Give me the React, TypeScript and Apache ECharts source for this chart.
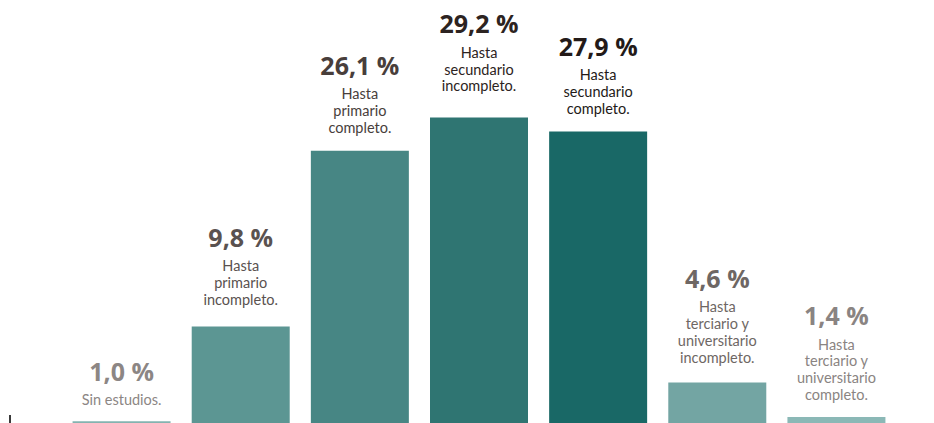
import React, { useEffect, useRef } from "react";
import * as echarts from "echarts";

const categories = [
  "Sin estudios.",
  "Hasta\nprimario\nincompleto.",
  "Hasta\nprimario\ncompleto.",
  "Hasta\nsecundario\nincompleto.",
  "Hasta\nsecundario\ncompleto.",
  "Hasta\nterciario y\nuniversitario\nincompleto.",
  "Hasta\nterciario y\nuniversitario\ncompleto.",
];
const values = [1.0, 9.8, 26.1, 29.2, 27.9, 4.6, 1.4];

const barColors = ["#84b3b0", "#5c9693", "#478684", "#2f7572", "#196866", "#73a5a3", "#8bb8b6"];
const textColors = ["#8c8684", "#5a5250", "#483e3b", "#2c2321", "#231a18", "#6e6764", "#8a8482"];
const labelGaps = [13, 19, 15, 23, 15, 17, 14];

const fmt = (v: number) => v.toFixed(1).replace(".", ",") + " %";

export default function App() {
  const ref = useRef<HTMLDivElement>(null);
  useEffect(() => {
    const chart = echarts.init(ref.current!, null, { renderer: "svg" });
    const vFont = "'Open Sans', 'Noto Sans', sans-serif";
    const dFont = "Lato, 'Open Sans', sans-serif";
    chart.setOption({
      animation: false,
      grid: { left: 62, right: 38, top: 1, bottom: 0 },
      xAxis: { type: "category", data: categories, show: false },
      yAxis: { type: "value", min: 0.84, max: 40, show: false },
      series: [
        {
          type: "bar",
          barWidth: 98,
          data: values.map((v, i) => ({
            value: v,
            itemStyle: { color: barColors[i] },
            label: {
              show: true,
              position: "top",
              distance: labelGaps[i],
              formatter: () => `{v|${fmt(v)}}\n{d|${categories[i]}}`,
              rich: {
                v: {
                  fontFamily: vFont,
                  fontWeight: 700,
                  fontSize: 25,
                  lineHeight: 41,
                  color: textColors[i],
                  align: "center",
                },
                d: {
                  fontFamily: dFont,
                  fontWeight: 400,
                  fontSize: 14.5,
                  lineHeight: 16.8,
                  color: textColors[i],
                  align: "center",
                },
              },
            },
          })),
        },
      ],
      graphic: [
        {
          type: "rect",
          shape: { x: 9, y: 415, width: 2, height: 8 },
          style: { fill: "#3a3a3a" },
        },
      ],
    });
    return () => chart.dispose();
  }, []);
  return (
    <div
      ref={ref}
      style={{ position: "absolute", left: 0, top: 0, width: 934, height: 423, background: "#fff" }}
    />
  );
}
